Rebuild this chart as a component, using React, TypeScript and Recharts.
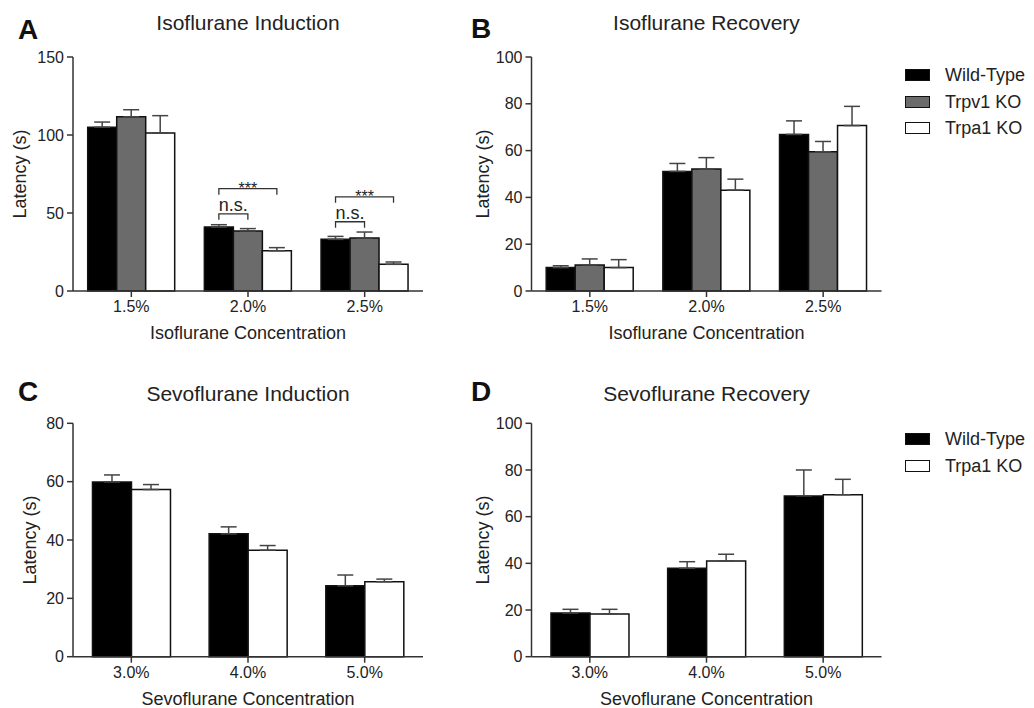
import React from "react";
import { BarChart, Bar, XAxis, YAxis, ErrorBar, Rectangle } from "recharts";

const isoConcentrations = ["1.5%", "2.0%", "2.5%"];
const sevoConcentrations = ["3.0%", "4.0%", "5.0%"];

// A - Isoflurane induction
const isoIndWT = [105, 41, 33.1];
const isoIndWTErr = [3.3, 1.5, 1.9];
const isoIndV1 = [111.7, 38.5, 34];
const isoIndV1Err = [4.5, 1.5, 3.8];
const isoIndA1 = [101.3, 25.8, 17.1];
const isoIndA1Err = [11.1, 2, 1.5];
// significance brackets: [bracket level, leg end]
const isoIndNs = [null, [49.5, 45.7], [44.4, 40.6]];
const isoIndStars = [null, [65.6, 61.7], [60.4, 56.6]];
const isoIndTicks = [0, 50, 100, 150];

// B - Isoflurane recovery
const isoRecWT = [10, 51.1, 66.9];
const isoRecWTErr = [0.8, 3.4, 5.8];
const isoRecV1 = [11.1, 52.1, 59.5];
const isoRecV1Err = [2.6, 4.9, 4.4];
const isoRecA1 = [10, 43.1, 70.7];
const isoRecA1Err = [3.4, 4.7, 8.2];
const isoRecTicks = [0, 20, 40, 60, 80, 100];

// C - Sevoflurane induction
const sevoIndWT = [59.9, 42.1, 24.3];
const sevoIndWTErr = [2.4, 2.4, 3.7];
const sevoIndA1 = [57.3, 36.5, 25.7];
const sevoIndA1Err = [1.7, 1.6, 0.9];
const sevoIndTicks = [0, 20, 40, 60, 80];

// D - Sevoflurane recovery
const sevoRecWT = [18.7, 37.9, 68.9];
const sevoRecWTErr = [1.6, 2.8, 11.1];
const sevoRecA1 = [18.3, 41, 69.4];
const sevoRecA1Err = [2, 2.9, 6.6];
const sevoRecTicks = [0, 20, 40, 60, 80, 100];

type Series = { key: string; name: string; fill: string };
const wildType: Series = { key: "wt", name: "Wild-Type", fill: "#000000" };
const trpv1: Series = { key: "v1", name: "Trpv1 KO", fill: "#6b6b6b" };
const trpa1: Series = { key: "a1", name: "Trpa1 KO", fill: "#ffffff" };

const isoIndData = isoConcentrations.map((name, i) => ({
  name,
  wt: isoIndWT[i],
  wtErr: [0, isoIndWTErr[i]],
  v1: isoIndV1[i],
  v1Err: [0, isoIndV1Err[i]],
  a1: isoIndA1[i],
  a1Err: [0, isoIndA1Err[i]],
  ns: isoIndNs[i],
  stars: isoIndStars[i],
}));

const isoRecData = isoConcentrations.map((name, i) => ({
  name,
  wt: isoRecWT[i],
  wtErr: [0, isoRecWTErr[i]],
  v1: isoRecV1[i],
  v1Err: [0, isoRecV1Err[i]],
  a1: isoRecA1[i],
  a1Err: [0, isoRecA1Err[i]],
}));

const sevoIndData = sevoConcentrations.map((name, i) => ({
  name,
  wt: sevoIndWT[i],
  wtErr: [0, sevoIndWTErr[i]],
  a1: sevoIndA1[i],
  a1Err: [0, sevoIndA1Err[i]],
}));

const sevoRecData = sevoConcentrations.map((name, i) => ({
  name,
  wt: sevoRecWT[i],
  wtErr: [0, sevoRecWTErr[i]],
  a1: sevoRecA1[i],
  a1Err: [0, sevoRecA1Err[i]],
}));

const INK = "#222";
const AXIS = "#333";

// wild-type bar that also draws the significance brackets above its group
function BracketBar(props: any) {
  const { x, y, width, height, fill, stroke, strokeWidth, payload } = props;
  const base = y + height;
  const ppu = height / payload.wt;
  const toY = (v: number) => base - v * ppu;
  const cx = x + width / 2;
  const ns = payload.ns;
  const stars = payload.stars;
  return (
    <g>
      <Rectangle x={x} y={y} width={width} height={height} fill={fill} stroke={stroke} strokeWidth={strokeWidth} />
      {ns && (
        <g>
          <path
            d={`M${cx},${toY(ns[1])}V${toY(ns[0])}H${cx + width}V${toY(ns[1])}`}
            fill="none"
            stroke={AXIS}
            strokeWidth={1.3}
          />
          <text x={cx + width / 2} y={toY(ns[0]) - 2.5} textAnchor="middle" fontSize={18} fill={INK}>
            n.s.
          </text>
        </g>
      )}
      {stars && (
        <g>
          <path
            d={`M${cx},${toY(stars[1])}V${toY(stars[0])}H${cx + 2 * width}V${toY(stars[1])}`}
            fill="none"
            stroke={AXIS}
            strokeWidth={1.3}
          />
          <text x={cx + width} y={toY(stars[0]) + 5} textAnchor="middle" fontSize={16} fill={INK}>
            ***
          </text>
        </g>
      )}
    </g>
  );
}

type PanelProps = {
  left: number;
  top: number;
  width: number;
  height: number;
  marginTop: number;
  marginRight: number;
  plotHeight: number;
  xAxisHeight: number;
  yAxisWidth: number;
  yLabelOffset: number;
  xLabelOffset: number;
  data: any[];
  series: Series[];
  ticks: number[];
  xLabel: string;
  categoryGap: string;
  wtShape?: any;
};

function Panel(p: PanelProps) {
  const bottom = p.height - p.marginTop - p.plotHeight - p.xAxisHeight;
  return (
    <div style={{ position: "absolute", left: p.left, top: p.top }}>
      <BarChart
        width={p.width}
        height={p.height}
        data={p.data}
        margin={{ top: p.marginTop, right: p.marginRight, bottom, left: 0 }}
        barGap={0}
        barCategoryGap={p.categoryGap}
      >
        <XAxis
          dataKey="name"
          interval={0}
          height={p.xAxisHeight}
          tickSize={6}
          tickMargin={4}
          axisLine={{ stroke: AXIS, strokeWidth: 1.5 }}
          tickLine={{ stroke: AXIS, strokeWidth: 1.5 }}
          tick={{ fill: INK, fontSize: 16 }}
          label={{ value: p.xLabel, position: "insideBottom", offset: p.xLabelOffset, fill: INK, fontSize: 18 }}
        />
        <YAxis
          type="number"
          domain={[0, p.ticks[p.ticks.length - 1]]}
          ticks={p.ticks}
          interval={0}
          width={p.yAxisWidth}
          tickSize={6}
          tickMargin={3}
          axisLine={{ stroke: AXIS, strokeWidth: 1.5 }}
          tickLine={{ stroke: AXIS, strokeWidth: 1.5 }}
          tick={{ fill: INK, fontSize: 16 }}
          label={{
            value: "Latency (s)",
            angle: -90,
            position: "insideLeft",
            offset: p.yLabelOffset,
            fill: INK,
            fontSize: 18,
            style: { textAnchor: "middle" },
          }}
        />
        {p.series.map((s) => (
          <Bar
            key={s.key}
            dataKey={s.key}
            name={s.name}
            fill={s.fill}
            stroke="#111"
            strokeWidth={1.5}
            isAnimationActive={false}
            shape={s.key === "wt" && p.wtShape ? p.wtShape : undefined}
          >
            <ErrorBar
              dataKey={`${s.key}Err`}
              direction="y"
              width={8}
              stroke="#444"
              strokeWidth={1.5}
              isAnimationActive={false}
            />
          </Bar>
        ))}
      </BarChart>
    </div>
  );
}

function LegendBox({ left, top, rowHeight, series }: { left: number; top: number; rowHeight: number; series: Series[] }) {
  return (
    <div style={{ position: "absolute", left, top }}>
      {series.map((s) => (
        <div key={s.key} style={{ display: "flex", alignItems: "center", height: rowHeight }}>
          <span
            style={{
              display: "inline-block",
              width: 25,
              height: 12,
              boxSizing: "border-box",
              background: s.fill,
              border: "1.5px solid #111",
              marginRight: 15,
            }}
          />
          <span style={{ fontSize: 18, lineHeight: "18px", color: INK }}>{s.name}</span>
        </div>
      ))}
    </div>
  );
}

function Heading({ letter, title, letterLeft, titleLeft, top, letterTop }: any) {
  return (
    <>
      <div style={{ position: "absolute", left: letterLeft, top: letterTop, fontSize: 28, lineHeight: "28px", fontWeight: 700, color: "#111" }}>
        {letter}
      </div>
      <div style={{ position: "absolute", left: titleLeft, top, width: 350, textAlign: "center", fontSize: 21, lineHeight: "21px", color: INK }}>
        {title}
      </div>
    </>
  );
}

export default function App() {
  return (
    <div
      style={{
        position: "absolute",
        left: 0,
        top: 0,
        width: 1034,
        height: 708,
        overflow: "hidden",
        background: "#fff",
        fontFamily: "'Liberation Sans', Arial, sans-serif",
      }}
    >
      <Heading letter="A" title="Isoflurane Induction" letterLeft={18} letterTop={16} titleLeft={73} top={12} />
      <Heading letter="B" title="Isoflurane Recovery" letterLeft={471} letterTop={15} titleLeft={531.5} top={12} />
      <Heading letter="C" title="Sevoflurane Induction" letterLeft={18} letterTop={378} titleLeft={73} top={382.5} />
      <Heading letter="D" title="Sevoflurane Recovery" letterLeft={471} letterTop={378} titleLeft={531.5} top={382.5} />

      <Panel
        left={0}
        top={0}
        width={460}
        height={350}
        marginTop={57}
        marginRight={37}
        plotHeight={234}
        xAxisHeight={55}
        yAxisWidth={73}
        yLabelOffset={20}
        xLabelOffset={7.5}
        data={isoIndData}
        series={[wildType, trpv1, trpa1]}
        ticks={isoIndTicks}
        xLabel="Isoflurane Concentration"
        categoryGap="12.6%"
        wtShape={BracketBar}
      />
      <Panel
        left={460}
        top={0}
        width={574}
        height={350}
        marginTop={57}
        marginRight={152.5}
        plotHeight={234}
        xAxisHeight={55}
        yAxisWidth={71.5}
        yLabelOffset={23}
        xLabelOffset={7.5}
        data={isoRecData}
        series={[wildType, trpv1, trpa1]}
        ticks={isoRecTicks}
        xLabel="Isoflurane Concentration"
        categoryGap="12.6%"
      />
      <Panel
        left={0}
        top={366}
        width={460}
        height={342}
        marginTop={57.3}
        marginRight={37}
        plotHeight={233.4}
        xAxisHeight={50}
        yAxisWidth={73}
        yLabelOffset={30}
        xLabelOffset={2}
        data={sevoIndData}
        series={[wildType, trpa1]}
        ticks={sevoIndTicks}
        xLabel="Sevoflurane Concentration"
        categoryGap="16.7%"
      />
      <Panel
        left={460}
        top={366}
        width={574}
        height={342}
        marginTop={57.3}
        marginRight={152.5}
        plotHeight={233.4}
        xAxisHeight={50}
        yAxisWidth={71.5}
        yLabelOffset={23}
        xLabelOffset={2}
        data={sevoRecData}
        series={[wildType, trpa1]}
        ticks={sevoRecTicks}
        xLabel="Sevoflurane Concentration"
        categoryGap="16.7%"
      />

      <LegendBox left={905} top={61.75} rowHeight={26.5} series={[wildType, trpv1, trpa1]} />
      <LegendBox left={905} top={424.75} rowHeight={27.5} series={[wildType, trpa1]} />
    </div>
  );
}
